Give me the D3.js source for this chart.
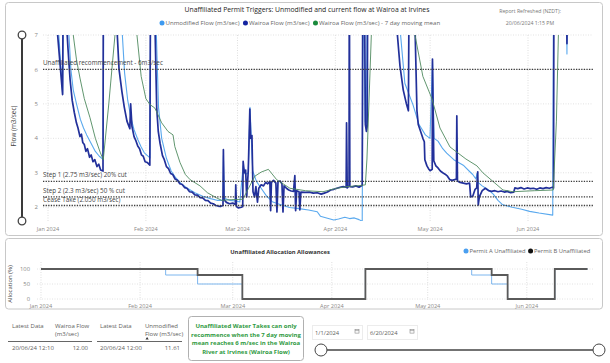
<!DOCTYPE html>
<html>
<head>
<meta charset="utf-8">
<script src="https://cdn.jsdelivr.net/npm/d3@7"></script>
<style>
  body { margin: 0; background: #fff; }
  svg text { font-family: "Segoe UI", "Open Sans", sans-serif; }
</style>
</head>
<body>
<svg id="chart" width="610" height="363"></svg>
<script>
// ---- data ----
// [ "MM-DD HH" (2024), m3/sec ]
var wairoaFlow = [
  ["01-01 00", 11.5], ["01-03 12", 7.6], ["01-05 15", 5.27], ["01-05 20", 8.8], ["01-06 20", 7.4],
  ["01-07 08", 6.6], ["01-08 00", 5.7], ["01-08 16", 5.1], ["01-09 08", 4.75], ["01-10 00", 4.45],
  ["01-10 12", 4.3], ["01-11 03", 4.05], ["01-11 14", 4.12], ["01-12 00", 3.88], ["01-12 12", 3.82],
  ["01-13 00", 3.62], ["01-13 12", 3.7], ["01-14 04", 3.45], ["01-14 16", 3.52], ["01-15 06", 3.32],
  ["01-15 20", 3.38], ["01-16 12", 3.18], ["01-17 02", 3.25], ["01-17 16", 3.08], ["01-18 10", 3.05],
  ["01-18 13", 9.5], ["01-22 20", 7.2], ["01-23 12", 6.0], ["01-24 10", 5.35], ["01-25 04", 4.9],
  ["01-26 00", 4.5], ["01-26 22", 4.28], ["01-27 04", 5.0], ["01-27 14", 4.35], ["01-28 06", 4.05],
  ["01-28 18", 3.95], ["01-29 10", 3.78], ["01-30 00", 3.7], ["01-30 14", 3.52], ["01-31 04", 3.48],
  ["01-31 18", 3.32], ["02-01 10", 3.3], ["02-02 06", 3.22], ["02-02 12", 9.5], ["02-03 20", 7.5],
  ["02-04 10", 4.9], ["02-04 22", 4.2], ["02-05 12", 3.85], ["02-06 06", 3.5], ["02-06 20", 3.38],
  ["02-07 12", 3.18], ["02-08 04", 3.12], ["02-08 20", 2.98], ["02-09 12", 2.95], ["02-10 06", 2.82],
  ["02-11 00", 2.78], ["02-11 18", 2.68], ["02-12 12", 2.66], ["02-13 06", 2.57], ["02-14 00", 2.55],
  ["02-14 20", 2.45], ["02-15 16", 2.44], ["02-16 12", 2.36], ["02-17 08", 2.35], ["02-18 04", 2.28],
  ["02-19 00", 2.27], ["02-19 20", 2.2], ["02-20 16", 2.19], ["02-21 12", 2.12], ["02-22 08", 2.1],
  ["02-23 04", 2.05], ["02-24 12", 2.02], ["02-25 10", 2.05], ["02-25 13", 3.67], ["02-25 18", 2.22],
  ["02-26 12", 2.14], ["02-27 12", 2.1], ["02-28 12", 2.12], ["02-29 08", 2.08], ["02-29 11", 2.65],
  ["02-29 16", 2.02], ["03-01 06", 1.98], ["03-02 06", 2.0], ["03-02 16", 2.02], ["03-02 19", 3.33],
  ["03-03 04", 3.0], ["03-03 14", 3.08], ["03-03 22", 2.3], ["03-04 10", 3.05], ["03-04 22", 4.85],
  ["03-05 04", 4.0], ["03-05 14", 4.08], ["03-05 22", 2.45], ["03-06 10", 2.3], ["03-06 20", 2.6],
  ["03-07 08", 2.15], ["03-07 18", 2.55], ["03-08 12", 2.65], ["03-09 06", 2.62], ["03-09 22", 2.72],
  ["03-10 14", 2.68], ["03-11 06", 2.75], ["03-11 12", 1.9], ["03-11 18", 2.72], ["03-12 10", 2.78],
  ["03-13 04", 2.7], ["03-13 12", 1.86], ["03-13 20", 2.74], ["03-14 12", 2.76], ["03-15 02", 2.68],
  ["03-15 10", 1.86], ["03-15 18", 2.62], ["03-16 12", 2.55], ["03-17 06", 2.5], ["03-18 00", 2.47],
  ["03-18 18", 2.46], ["03-19 04", 2.92], ["03-19 10", 1.9], ["03-19 18", 2.48], ["03-20 12", 2.45],
  ["03-20 18", 1.92], ["03-21 02", 2.44], ["03-22 12", 2.43], ["03-23 18", 2.44], ["03-25 00", 2.41],
  ["03-26 06", 2.42], ["03-27 12", 2.38], ["03-28 12", 2.41], ["03-29 12", 2.44], ["03-30 12", 2.5],
  ["03-31 12", 2.52], ["04-01 12", 2.55], ["04-02 12", 2.58], ["04-03 12", 2.6], ["04-04 10", 2.58],
  ["04-04 13", 4.45], ["04-04 18", 2.56], ["04-05 08", 2.62], ["04-05 10", 9.5], ["04-05 14", 2.6],
  ["04-06 12", 2.59], ["04-07 12", 2.62], ["04-08 12", 2.58], ["04-09 12", 2.64], ["04-09 17", 9.5],
  ["04-10 06", 8.0], ["04-10 12", 4.4], ["04-10 20", 4.2], ["04-11 02", 4.35], ["04-11 08", 10.5],
  ["04-20 09", 7.3], ["04-21 11", 6.1], ["04-22 12", 5.4], ["04-23 12", 5.0], ["04-24 03", 4.8],
  ["04-24 10", 9.5], ["04-26 05", 7.3], ["04-26 20", 4.8], ["04-27 06", 4.4], ["04-28 00", 4.2],
  ["04-28 17", 4.0], ["04-29 04", 3.9], ["04-29 08", 3.38], ["04-30 00", 3.2], ["04-30 12", 3.12],
  ["05-01 00", 3.06], ["05-01 16", 3.1], ["05-01 18", 6.3], ["05-02 04", 3.35], ["05-02 20", 3.2],
  ["05-03 12", 3.14], ["05-04 06", 3.05], ["05-05 00", 3.0], ["05-05 18", 2.96], ["05-06 12", 2.9],
  ["05-07 06", 2.8], ["05-08 00", 2.78], ["05-08 18", 2.8], ["05-09 08", 2.82], ["05-09 11", 4.65],
  ["05-09 16", 2.76], ["05-10 12", 2.72], ["05-11 12", 2.7], ["05-12 12", 2.68], ["05-13 12", 2.7],
  ["05-13 20", 2.3], ["05-14 12", 2.32], ["05-15 06", 2.52], ["05-15 18", 2.56], ["05-16 02", 3.03],
  ["05-16 06", 2.07], ["05-16 14", 2.3], ["05-17 12", 2.48], ["05-18 12", 2.55], ["05-19 12", 2.48],
  ["05-20 12", 2.46], ["05-21 12", 2.48], ["05-22 12", 2.45], ["05-23 12", 2.47], ["05-24 12", 2.44],
  ["05-25 12", 2.46], ["05-26 12", 2.42], ["05-27 12", 2.44], ["05-27 20", 2.56], ["05-28 18", 2.54],
  ["05-29 18", 2.57], ["05-30 18", 2.53], ["05-31 18", 2.56], ["06-01 18", 2.54], ["06-02 18", 2.55],
  ["06-03 18", 2.52], ["06-04 18", 2.56], ["06-05 18", 2.54], ["06-06 18", 2.57], ["06-07 18", 2.55],
  ["06-08 18", 2.58], ["06-09 02", 2.56], ["06-09 08", 14.0], ["06-13 04", 9.0], ["06-13 08", 6.75],
  ["06-13 12", 9.5], ["06-20 12", 12.0]
];

var unmodifiedFlow = [
  ["01-01 00", 12], ["01-04 00", 7.6], ["01-05 15", 5.3], ["01-05 22", 9.0], ["01-07 12", 7.2],
  ["01-08 06", 6.0], ["01-09 00", 5.4], ["01-10 02", 4.98], ["01-11 06", 4.55], ["01-12 06", 4.3],
  ["01-13 06", 4.1], ["01-14 12", 3.88], ["01-16 00", 3.62], ["01-17 06", 3.48], ["01-18 12", 3.38],
  ["01-18 16", 9.5], ["01-24 10", 7.2], ["01-25 06", 5.9], ["01-26 06", 5.1], ["01-27 06", 4.6],
  ["01-28 06", 4.25], ["01-29 12", 3.95], ["01-30 12", 3.75], ["01-31 12", 3.58], ["02-02 07", 3.43],
  ["02-02 14", 9.5], ["02-04 06", 7.2], ["02-05 00", 4.9], ["02-06 00", 4.0], ["02-07 12", 3.42],
  ["02-09 00", 3.05], ["02-10 12", 2.85], ["02-12 00", 2.7], ["02-14 00", 2.56], ["02-16 12", 2.42],
  ["02-19 00", 2.32], ["02-21 12", 2.25], ["02-23 12", 2.2], ["02-25 10", 2.2], ["02-25 13", 3.5],
  ["02-25 20", 2.26], ["02-27 12", 2.2], ["02-29 12", 2.18], ["03-01 18", 2.15], ["03-02 19", 3.2],
  ["03-03 12", 2.95], ["03-04 10", 3.0], ["03-04 23", 4.9], ["03-05 08", 4.1], ["03-05 20", 3.05],
  ["03-07 00", 2.75], ["03-08 12", 2.55], ["03-10 00", 2.35], ["03-12 00", 2.16], ["03-14 12", 2.08],
  ["03-17 12", 1.99], ["03-20 12", 1.96], ["03-23 12", 1.92], ["03-26 06", 1.87], ["03-27 06", 1.74],
  ["03-29 12", 1.68], ["03-31 12", 1.63], ["04-02 00", 1.66], ["04-04 00", 1.71], ["04-05 12", 1.67],
  ["04-07 00", 1.69], ["04-08 12", 1.64], ["04-09 12", 1.59], ["04-09 20", 9.5], ["04-10 10", 4.5],
  ["04-10 20", 4.3], ["04-11 04", 10], ["04-21 11", 7.2], ["04-23 00", 5.6], ["04-25 14", 4.97],
  ["04-27 12", 4.4], ["04-29 12", 4.1], ["04-30 23", 4.0], ["05-01 18", 6.25], ["05-02 06", 4.0],
  ["05-03 12", 3.92], ["05-05 00", 3.7], ["05-06 06", 3.57], ["05-08 12", 3.38], ["05-11 12", 3.22],
  ["05-13 14", 3.03], ["05-14 12", 2.95], ["05-15 12", 2.82], ["05-15 20", 2.98], ["05-16 04", 2.72],
  ["05-17 12", 2.62], ["05-19 12", 2.5], ["05-21 00", 2.38], ["05-22 12", 2.2], ["05-24 00", 2.07],
  ["05-27 00", 2.0], ["05-30 00", 1.94], ["06-01 12", 1.88], ["06-04 12", 1.83], ["06-08 20", 1.77],
  ["06-09 06", 13.0], ["06-13 04", 8.5], ["06-13 08", 6.45], ["06-13 12", 9.0], ["06-20 12", 11.61]
];

var movingMean = [
  ["01-01 00", 13], ["01-09 00", 7.0], ["01-10 00", 6.3], ["01-11 03", 5.75], ["01-12 12", 5.15],
  ["01-14 07", 4.6], ["01-16 00", 4.0], ["01-17 12", 3.6], ["01-18 12", 3.38], ["01-20 06", 5.0],
  ["01-22 05", 7.0], ["01-24 00", 9.0], ["01-29 04", 7.0], ["01-30 12", 5.8], ["02-01 00", 5.15],
  ["02-02 07", 4.98], ["02-03 20", 4.88], ["02-06 00", 4.45], ["02-08 00", 4.2], ["02-09 14", 4.1],
  ["02-10 04", 3.76], ["02-11 19", 3.3], ["02-13 12", 2.95], ["02-15 00", 2.8], ["02-18 03", 2.62],
  ["02-20 12", 2.42], ["02-23 10", 2.27], ["02-25 00", 2.2], ["02-28 00", 2.22], ["03-02 17", 2.23],
  ["03-04 12", 2.55], ["03-06 12", 2.9], ["03-08 12", 3.02], ["03-10 19", 3.1], ["03-13 10", 2.8],
  ["03-17 15", 2.55], ["03-22 12", 2.48], ["03-28 02", 2.45], ["04-01 10", 2.55], ["04-05 00", 2.6],
  ["04-08 19", 2.63], ["04-10 12", 2.65], ["04-11 00", 3.4], ["04-12 14", 7.5], ["04-18 00", 12],
  ["04-26 05", 7.0], ["04-28 17", 5.8], ["05-01 14", 5.15], ["05-04 03", 4.3], ["05-07 07", 3.75],
  ["05-12 08", 3.4], ["05-15 20", 3.2], ["05-17 17", 3.0], ["05-22 04", 2.65], ["05-24 02", 2.5],
  ["05-27 05", 2.45], ["06-03 00", 2.48], ["06-09 00", 2.5], ["06-10 00", 4.5], ["06-10 18", 7.5],
  ["06-20 12", 11.5]
];

// trigger levels (m3/sec)
var triggerValues = [6, 2.75, 2.3, 2.05];
var triggerLabels = [
  "Unaffiliated recommencement - 6m3/sec",
  "Step 1 (2.75 m3/sec) 20% cut",
  "Step 2 (2.3 m3/sec) 50 % cut",
  "Cease Take (2.050 m3/sec)"
];
var flowTicks = [2, 3, 4, 5, 6, 7];

// allocation (%) step changes
var permitA = [["01-01 00", 100], ["02-09 00", 80], ["02-19 00", 50], ["03-04 00", 0], ["04-11 12", 100],
  ["05-14 18", 80], ["05-21 00", 50], ["05-26 00", 0], ["06-09 18", 100], ["06-20 00", 100]];
var permitB = [["01-01 00", 100], ["02-19 00", 80], ["03-04 00", 0], ["04-11 12", 100],
  ["05-21 00", 80], ["05-26 00", 0], ["06-09 18", 100], ["06-20 00", 100]];
var allocationTicks = [0, 50, 100];

var seriesNames = ["Unmodified Flow (m3/sec)", "Wairoa Flow (m3/sec)", "Wairoa Flow (m3/sec) - 7 day moving mean"];
var permitNames = ["Permit A Unaffiliated", "Permit B Unaffiliated"];

var tableHeaders = ["Latest Data", "Wairoa Flow|(m3/sec)", "Latest Data", "Unmodified|Flow (m3/sec)"];
var tableRow = ["20/06/24 12:10", "12.00", "20/06/24 12:00", "11.61"];

var noteLines = ["Unaffiliated Water Takes can only", "recommence when the 7 day moving",
  "mean reaches 6 m/sec in the Wairoa", "River at Irvines (Wairoa Flow)"];
var dateRange = ["1/1/2024", "6/20/2024"];

// ---- helpers ----
var parseTime = d3.timeParse("%Y-%m-%d %H");
function toPoints(arr) {
  return arr.map(function(d) { return { date: parseTime("2024-" + d[0]), value: d[1] }; });
}
var fmtMonth = d3.timeFormat("%b %Y");

var svg = d3.select("#chart");

// panel frames
svg.append("rect").attr("x", 5.5).attr("y", 2.5).attr("width", 597).attr("height", 233)
  .attr("rx", 3).attr("fill", "#fff").attr("stroke", "#c8c8c8");
svg.append("rect").attr("x", 5.5).attr("y", 238.5).attr("width", 597).attr("height", 70.5)
  .attr("rx", 3).attr("fill", "#fff").attr("stroke", "#c8c8c8");

// ================= main flow chart =================
var x = d3.scaleTime()
  .domain([new Date(2023, 11, 30, 10), new Date(2024, 5, 21, 14)])
  .range([43, 593]);
var y = d3.scaleLinear().domain([1.6, 7]).range([221, 35]);
var monthTicks = x.ticks(d3.timeMonth.every(1));

var grid = svg.append("g").attr("class", "grid");
grid.selectAll(".vgrid").data(monthTicks).enter().append("line")
  .attr("x1", d => x(d)).attr("x2", d => x(d))
  .attr("y1", 35).attr("y2", 221)
  .attr("stroke", "#dedede").attr("stroke-dasharray", "1,1.5");
grid.selectAll(".hgrid").data(flowTicks).enter().append("line")
  .attr("x1", 43).attr("x2", 593)
  .attr("y1", d => y(d)).attr("y2", d => y(d))
  .attr("stroke", "#e2e2e2").attr("stroke-dasharray", "1,1.5");

svg.append("g").selectAll("text").data(flowTicks).enter().append("text")
  .attr("x", 38).attr("y", d => y(d)).attr("dy", "0.35em")
  .attr("text-anchor", "end").attr("font-size", 6).attr("fill", "#8a8886")
  .text(d => d);

svg.append("g").selectAll("text").data(monthTicks).enter().append("text")
  .attr("x", d => x(d)).attr("y", 230.5)
  .attr("text-anchor", "middle").attr("font-size", 5.6).attr("fill", "#8a8886")
  .text(d => fmtMonth(d));

svg.append("text")
  .attr("transform", "translate(16,126) rotate(-90)")
  .attr("text-anchor", "middle").attr("font-size", 6.4).attr("fill", "#444")
  .text("Flow (m3/sec)");

svg.append("clipPath").attr("id", "plotClip")
  .append("rect").attr("x", 43).attr("y", 35).attr("width", 550).attr("height", 186);

var line = d3.line().x(d => x(d.date)).y(d => y(d.value));
var plot = svg.append("g").attr("clip-path", "url(#plotClip)");

plot.append("path").datum(toPoints(unmodifiedFlow))
  .attr("fill", "none").attr("stroke", "#5aa9ee").attr("stroke-width", 1.1)
  .attr("stroke-linejoin", "round").attr("d", line);
plot.append("path").datum(toPoints(wairoaFlow))
  .attr("fill", "none").attr("stroke", "#22309a").attr("stroke-width", 1.7)
  .attr("stroke-linejoin", "round").attr("d", line);
plot.append("path").datum(toPoints(movingMean))
  .attr("fill", "none").attr("stroke", "#4f8a5f").attr("stroke-width", 0.9)
  .attr("stroke-linejoin", "round").attr("d", line);

// trigger lines + labels
svg.append("g").selectAll("line").data(triggerValues).enter().append("line")
  .attr("x1", 43).attr("x2", 593)
  .attr("y1", d => y(d)).attr("y2", d => y(d))
  .attr("stroke", "#3b3b3b").attr("stroke-width", 1.3).attr("stroke-dasharray", "1.3,1.3");
svg.append("g").selectAll("text").data(triggerValues).enter().append("text")
  .attr("x", 43).attr("y", d => y(d) - 4)
  .attr("font-size", 6.3).attr("fill", "#444")
  .text((d, i) => triggerLabels[i]);

// vertical range slider on the left
svg.append("line").attr("x1", 22).attr("x2", 22).attr("y1", 35).attr("y2", 221)
  .attr("stroke", "#3a3a3a").attr("stroke-width", 2);
svg.selectAll(".vknob").data([35, 221]).enter().append("circle")
  .attr("cx", 22).attr("cy", d => d).attr("r", 3.8)
  .attr("fill", "#fff").attr("stroke", "#444").attr("stroke-width", 1.3);

// title, legend, refresh stamp
svg.append("text").attr("x", 307).attr("y", 11.5).attr("text-anchor", "middle")
  .attr("font-size", 6.8).attr("fill", "#252423")
  .text("Unaffiliated Permit Triggers: Unmodified and current flow at Wairoa at Irvines");

var legendColors = ["#3d9af0", "#1524a0", "#1a8a3c"];
var lx = 162;
seriesNames.forEach(function(name, i) {
  svg.append("circle").attr("cx", lx).attr("cy", 23).attr("r", 2.5).attr("fill", legendColors[i]);
  var t = svg.append("text").attr("x", lx + 3.5).attr("y", 25)
    .attr("font-size", 6.1).attr("fill", "#666").text(name);
  lx += 3.5 + t.node().getComputedTextLength() + 6;
});

svg.append("text").attr("x", 530).attr("y", 13).attr("text-anchor", "middle")
  .attr("font-size", 5.2).attr("fill", "#777").text("Report Refreshed (NZDT):");
svg.append("text").attr("x", 530).attr("y", 24.5).attr("text-anchor", "middle")
  .attr("font-size", 5.2).attr("fill", "#777").text("20/06/2024 1:15 PM");

// ================= allocation chart =================
var x2 = d3.scaleTime()
  .domain([new Date(2023, 11, 30, 18), new Date(2024, 5, 21, 17)])
  .range([37, 593]);
var y2 = d3.scaleLinear().domain([0, 100]).range([299, 269]);
var monthTicks2 = x2.ticks(d3.timeMonth.every(1));

var grid2 = svg.append("g");
grid2.selectAll(".vg").data(monthTicks2).enter().append("line")
  .attr("x1", d => x2(d)).attr("x2", d => x2(d))
  .attr("y1", 262).attr("y2", 300)
  .attr("stroke", "#dedede").attr("stroke-dasharray", "1,1.5");
grid2.selectAll(".hg").data(allocationTicks).enter().append("line")
  .attr("x1", 37).attr("x2", 593)
  .attr("y1", d => y2(d)).attr("y2", d => y2(d))
  .attr("stroke", "#e2e2e2").attr("stroke-dasharray", "1,1.5");

svg.append("g").selectAll("text").data(allocationTicks).enter().append("text")
  .attr("x", 30).attr("y", d => y2(d)).attr("dy", "0.35em")
  .attr("text-anchor", "end").attr("font-size", 5.8).attr("fill", "#8a8886")
  .text(d => d);
svg.append("g").selectAll("text").data(monthTicks2).enter().append("text")
  .attr("x", d => x2(d)).attr("y", 308)
  .attr("text-anchor", "middle").attr("font-size", 5.6).attr("fill", "#8a8886")
  .text(d => fmtMonth(d));
svg.append("text")
  .attr("transform", "translate(12,284) rotate(-90)")
  .attr("text-anchor", "middle").attr("font-size", 6).attr("fill", "#444")
  .text("Allocation (%)");

var stepLine = d3.line().curve(d3.curveStepAfter)
  .x(d => x2(d.date)).y(d => y2(d.value));
svg.append("path").datum(toPoints(permitA))
  .attr("fill", "none").attr("stroke", "#7db6ee").attr("stroke-width", 1).attr("d", stepLine);
svg.append("path").datum(toPoints(permitB))
  .attr("fill", "none").attr("stroke", "#5a5a5a").attr("stroke-width", 1.8).attr("d", stepLine);

svg.append("text").attr("x", 280).attr("y", 253.5).attr("text-anchor", "middle")
  .attr("font-size", 5.8).attr("font-weight", "bold").attr("fill", "#333")
  .text("Unaffiliated Allocation Allowances");

var permitColors = ["#4a9ff0", "#111"];
var px = 466;
permitNames.forEach(function(name, i) {
  svg.append("circle").attr("cx", px).attr("cy", 251).attr("r", 2.5).attr("fill", permitColors[i]);
  var t = svg.append("text").attr("x", px + 3.5).attr("y", 253)
    .attr("font-size", 5.8).attr("fill", "#666").text(name);
  px += 3.5 + t.node().getComputedTextLength() + 5;
});

// ================= latest values table =================
var colX = [12, 55, 100, 145];
tableHeaders.forEach(function(h, i) {
  h.split("|").forEach(function(part, j) {
    svg.append("text").attr("x", colX[i]).attr("y", 327.5 + j * 8.6)
      .attr("font-size", 6).attr("fill", "#605e5c").text(part);
  });
});
svg.append("path").attr("d", "M145.5,339.5 l1.6,-2.4 l1.6,2.4 z").attr("fill", "#333");
svg.append("line").attr("x1", 8).attr("x2", 92).attr("y1", 341.5).attr("y2", 341.5)
  .attr("stroke", "#666");
svg.append("line").attr("x1", 97).attr("x2", 182).attr("y1", 341.5).attr("y2", 341.5)
  .attr("stroke", "#666");
var rowX = [12, 88, 100, 180];
var rowAnchor = ["start", "end", "start", "end"];
tableRow.forEach(function(v, i) {
  svg.append("text").attr("x", rowX[i]).attr("y", 349.5).attr("text-anchor", rowAnchor[i])
    .attr("font-size", 6).attr("fill", "#605e5c").text(v);
});

// ================= note box =================
svg.append("rect").attr("x", 188.5).attr("y", 316.5).attr("width", 115).attr("height", 44)
  .attr("rx", 3).attr("fill", "#fff").attr("stroke", "#b0b0b0");
svg.append("g").selectAll("text").data(noteLines).enter().append("text")
  .attr("x", 246).attr("y", (d, i) => 327.8 + i * 8.7).attr("text-anchor", "middle")
  .attr("font-size", 6).attr("font-weight", "bold").attr("fill", "#2f9a3f")
  .text(d => d);

// ================= date slicer =================
var boxX = [312, 367];
dateRange.forEach(function(d, i) {
  svg.append("rect").attr("x", boxX[i] + 0.5).attr("y", 325.5).attr("width", 50).attr("height", 14)
    .attr("fill", "#fff").attr("stroke", "#ececec");
  svg.append("text").attr("x", boxX[i] + 3).attr("y", 334.5)
    .attr("font-size", 5.8).attr("fill", "#605e5c").text(d);
  var ix = boxX[i] + 43;
  svg.append("rect").attr("x", ix).attr("y", 329.5).attr("width", 4).attr("height", 3.6)
    .attr("fill", "none").attr("stroke", "#888").attr("stroke-width", 0.6);
  svg.append("line").attr("x1", ix).attr("x2", ix + 4).attr("y1", 330.6).attr("y2", 330.6)
    .attr("stroke", "#888").attr("stroke-width", 0.6);
});
svg.append("line").attr("x1", 321).attr("x2", 599).attr("y1", 350).attr("y2", 350)
  .attr("stroke", "#444").attr("stroke-width", 1.3);
svg.selectAll(".hknob").data([321, 599]).enter().append("circle")
  .attr("cx", d => d).attr("cy", 350).attr("r", 6)
  .attr("fill", "#fff").attr("stroke", "#444").attr("stroke-width", 1);
</script>
</body>
</html>
